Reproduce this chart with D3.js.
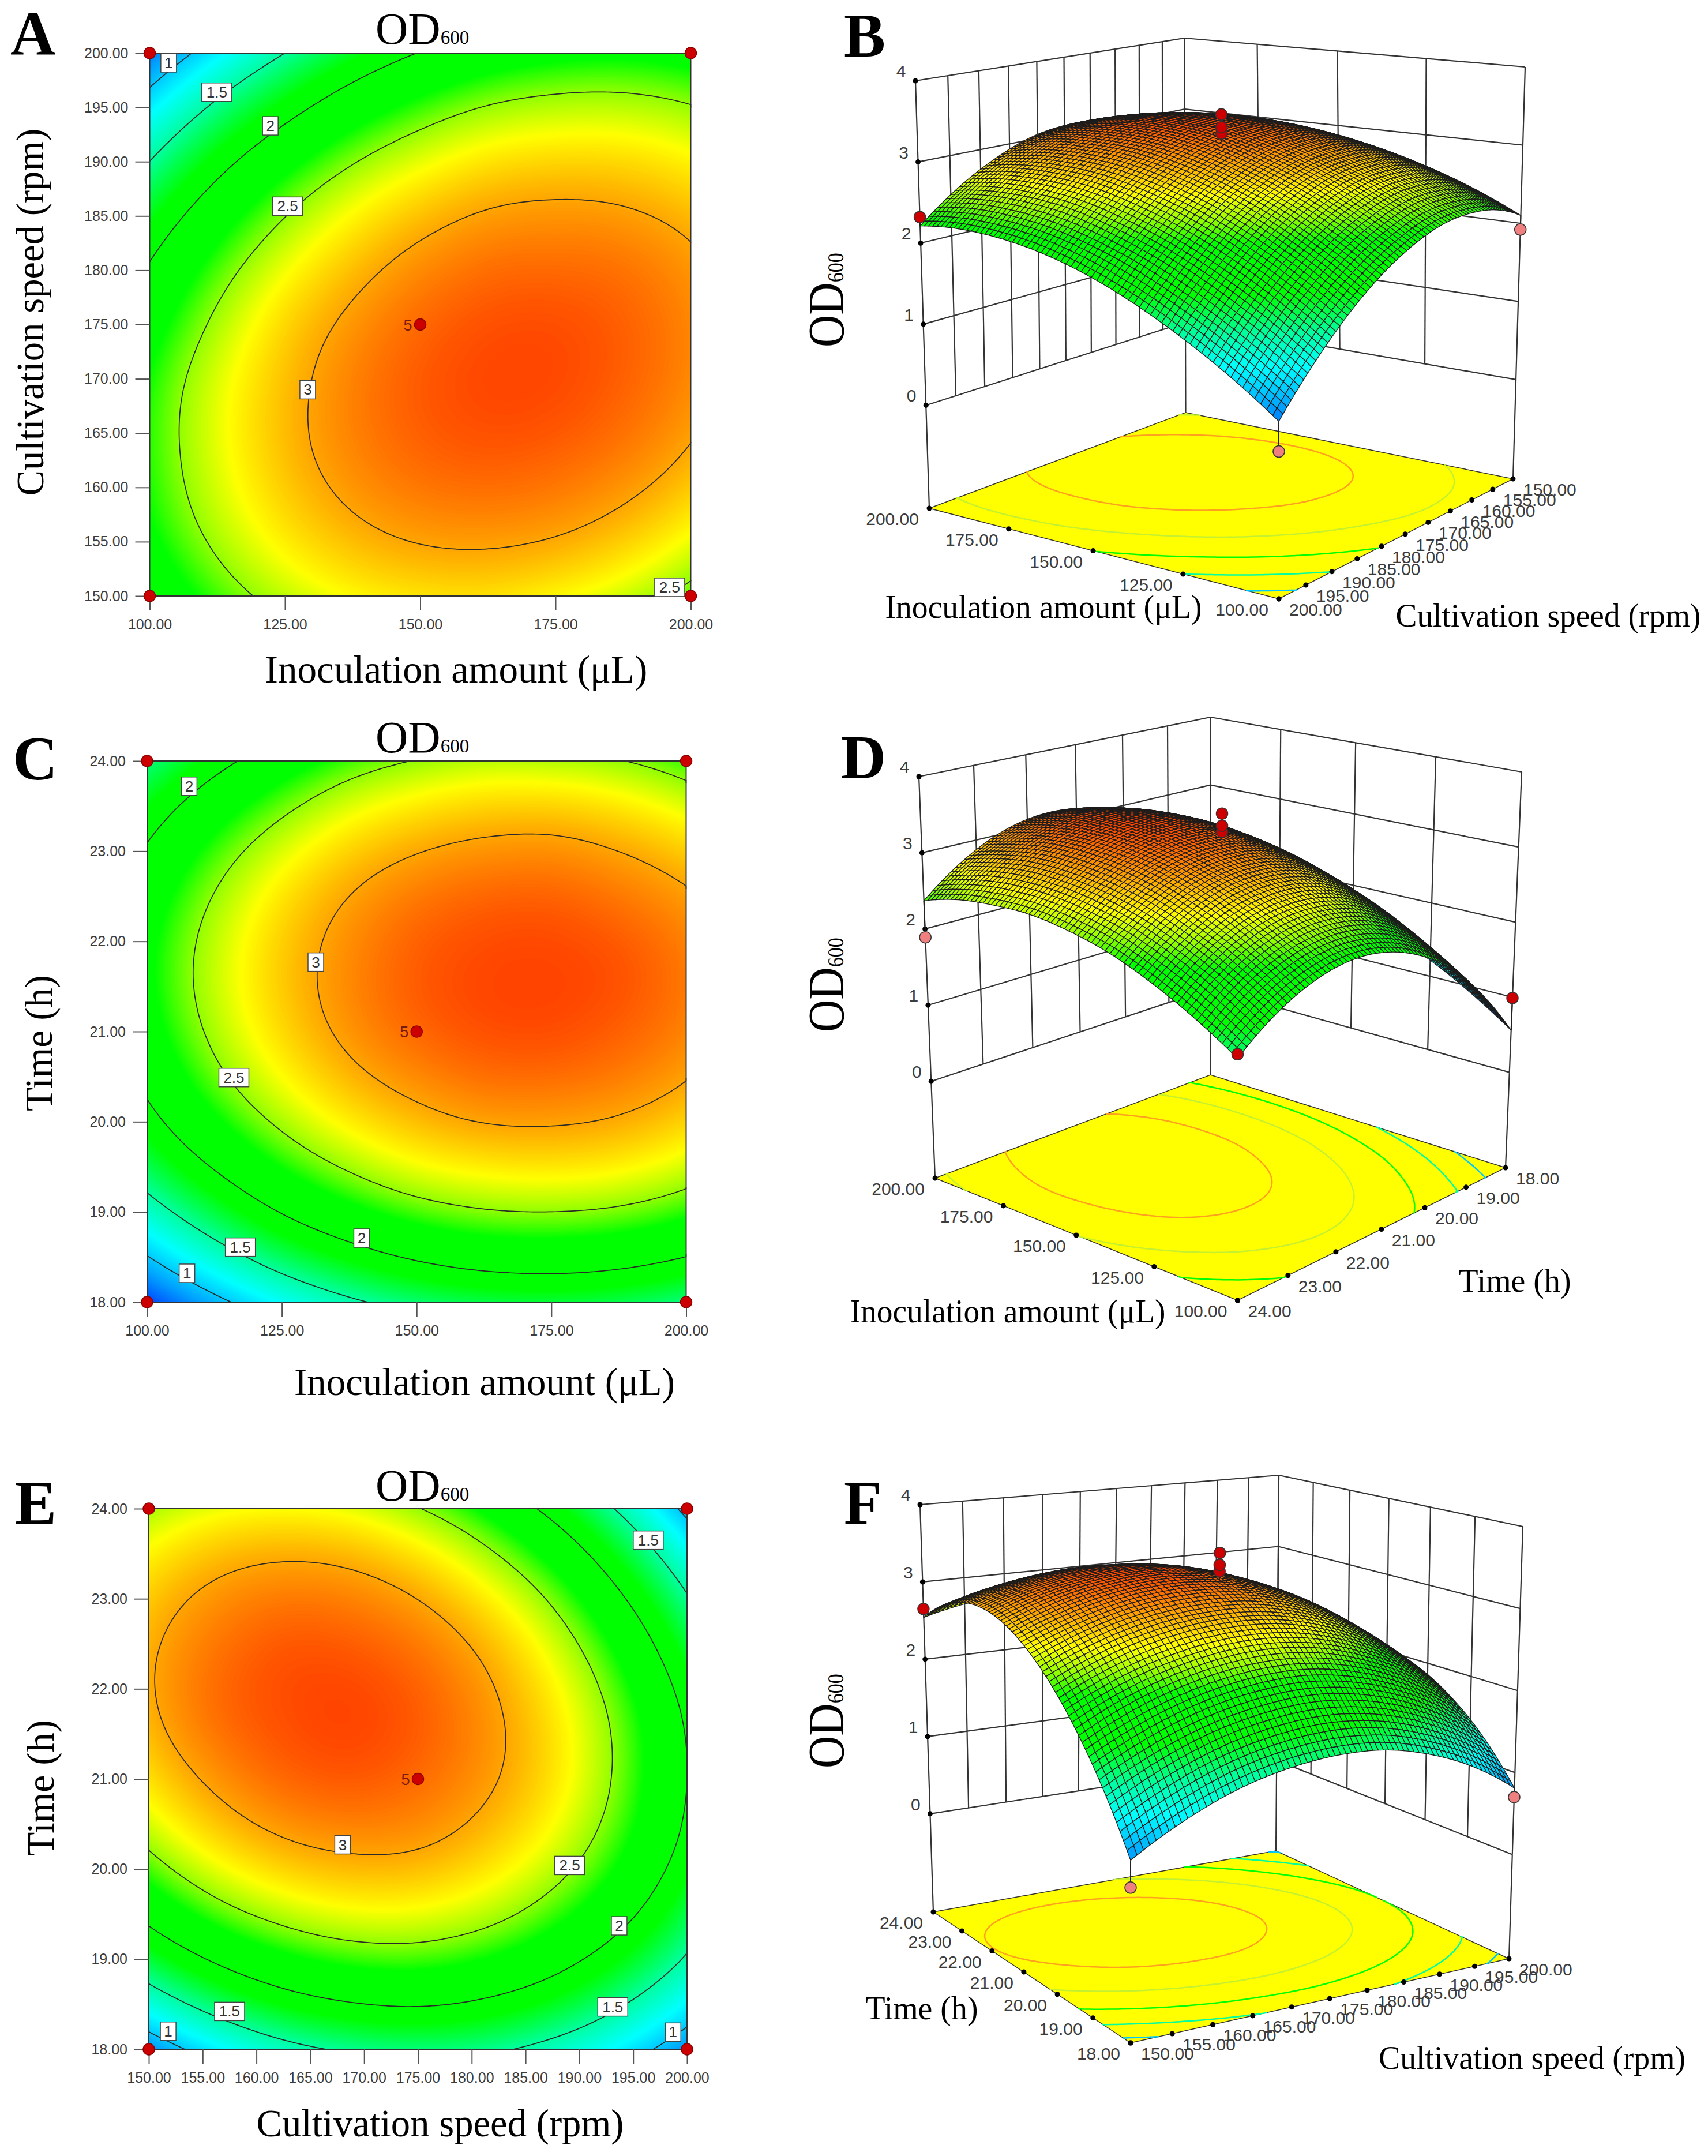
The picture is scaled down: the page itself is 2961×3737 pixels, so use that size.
<!DOCTYPE html>
<html>
<head>
<meta charset="utf-8">
<script src="https://cdn.jsdelivr.net/npm/d3@7"></script>
<style>
body { margin: 0; background: #fff; }
text { fill: #000; }
</style>
</head>
<body>
<div id="chart"></div>
<script>
// tick labels
var inocTicks = [100, 125, 150, 175, 200]
var speedTicks = [150, 155, 160, 165, 170, 175, 180, 185, 190, 195, 200]
var timeTicks = [18, 19, 20, 21, 22, 23, 24]
var odTicks = [0, 1, 2, 3, 4]
var levels = [1, 1.5, 2, 2.5, 3]

// OD600, rows go up the y axis, columns along the x axis
// inoculation amount 100..200 (columns) by cultivation speed 150..200 (rows)
var odInocSpeed = [
    [2.10, 2.38, 2.59, 2.73, 2.80, 2.81, 2.74, 2.62, 2.42],
    [2.28, 2.57, 2.80, 2.96, 3.05, 3.07, 3.03, 2.92, 2.74],
    [2.35, 2.66, 2.91, 3.09, 3.20, 3.24, 3.21, 3.12, 2.96],
    [2.33, 2.66, 2.92, 3.12, 3.25, 3.31, 3.30, 3.22, 3.08],
    [2.20, 2.55, 2.84, 3.05, 3.20, 3.28, 3.29, 3.23, 3.10],
    [1.98, 2.35, 2.65, 2.88, 3.05, 3.15, 3.17, 3.14, 3.03],
    [1.66, 2.05, 2.37, 2.62, 2.80, 2.92, 2.96, 2.94, 2.85],
    [1.24, 1.65, 1.98, 2.25, 2.45, 2.59, 2.65, 2.65, 2.58],
    [0.73, 1.15, 1.50, 1.79, 2.01, 2.16, 2.24, 2.26, 2.21]
]
// inoculation amount 100..200 (columns) by time 18..24 (rows)
var odInocTime = [
    [0.56, 0.92, 1.22, 1.45, 1.61, 1.70, 1.73, 1.69, 1.58],
    [1.18, 1.54, 1.84, 2.06, 2.22, 2.31, 2.33, 2.29, 2.18],
    [1.67, 2.02, 2.31, 2.53, 2.69, 2.77, 2.79, 2.75, 2.63],
    [2.00, 2.36, 2.64, 2.86, 3.01, 3.10, 3.11, 3.06, 2.94],
    [2.20, 2.55, 2.83, 3.05, 3.20, 3.28, 3.29, 3.23, 3.11],
    [2.26, 2.60, 2.88, 3.09, 3.24, 3.31, 3.32, 3.27, 3.14],
    [2.17, 2.51, 2.79, 3.00, 3.14, 3.21, 3.22, 3.15, 3.03],
    [1.94, 2.28, 2.55, 2.76, 2.89, 2.96, 2.97, 2.90, 2.77],
    [1.57, 1.90, 2.17, 2.38, 2.51, 2.58, 2.57, 2.51, 2.37]
]
// cultivation speed 150..200 (columns) by time 18..24 (rows)
var odSpeedTime = [
    [0.80, 1.15, 1.40, 1.54, 1.59, 1.55, 1.40, 1.16, 0.81],
    [1.52, 1.84, 2.06, 2.18, 2.21, 2.13, 1.96, 1.69, 1.33],
    [2.09, 2.39, 2.58, 2.68, 2.68, 2.58, 2.38, 2.09, 1.69],
    [2.52, 2.79, 2.96, 3.03, 3.01, 2.88, 2.66, 2.34, 1.92],
    [2.81, 3.05, 3.20, 3.25, 3.19, 3.04, 2.80, 2.45, 2.00],
    [2.96, 3.18, 3.29, 3.32, 3.24, 3.06, 2.79, 2.42, 1.95],
    [2.96, 3.15, 3.25, 3.24, 3.14, 2.94, 2.64, 2.24, 1.74],
    [2.82, 2.99, 3.06, 3.03, 2.90, 2.67, 2.35, 1.92, 1.40],
    [2.54, 2.68, 2.72, 2.67, 2.51, 2.26, 1.91, 1.46, 0.92]
]

// contour labels: level, x value, y value
var labelsA = [[1, 103.5, 199.1], [1.5, 112.4, 196.4], [2, 122.3, 193.3], [2.5, 125.5, 185.9], [3, 129.2, 169.0], [2.5, 196.1, 150.8]]
var labelsC = [[2, 107.8, 23.72], [3, 131.3, 21.77], [2.5, 116.1, 20.49], [2, 139.8, 18.71], [1.5, 117.3, 18.61], [1, 107.4, 18.32]]
var labelsE = [[1.5, 196.4, 23.65], [3, 168.0, 20.27], [2.5, 189.1, 20.04], [2, 193.7, 19.37], [1.5, 157.5, 18.42], [1.5, 193.1, 18.47], [1, 151.8, 18.2], [1, 198.7, 18.19]]

// design points of the contour plots
var designInocSpeed = [[100, 200], [200, 200], [100, 150], [200, 150], [150, 175]]
var designInocTime = [[100, 24], [200, 24], [100, 18], [200, 18], [150, 21]]
var designSpeedTime = [[150, 24], [200, 24], [150, 18], [200, 18], [175, 21]]

// measured points of the 3D plots: x value, y value, OD600
var runsB = [[200, 200, 2.32], [100, 150, 1.92], [100, 200, 0.39], [150, 175, 3.25], [150, 175, 3.33], [150, 175, 3.49]]
var runsD = [[200, 24, 1.89], [100, 18, 0.99], [100, 24, 1.62], [150, 21, 3.24], [150, 21, 3.32], [150, 21, 3.48]]
var runsF = [[150, 24, 2.65], [200, 18, 0.70], [150, 18, 0.49], [175, 21, 3.30], [175, 21, 3.38], [175, 21, 3.53]]

var width = 2961, height = 3737
var sans = "'Liberation Sans', Arial, sans-serif"
var serif = "'Liberation Serif', 'Times New Roman', serif"

var svg = d3.select("#chart").append("svg")
    .attr("width", width)
    .attr("height", height)
    .style("display", "block")
svg.append("rect").attr("width", width).attr("height", height).attr("fill", "#fff")

// Design-Expert style colour ramp
var color = d3.scaleLinear()
    .domain([0.5, 0.85, 1.2, 1.5, 1.85, 2.3, 2.5, 2.72, 3.0, 3.35])
    .range(["#0030ff", "#00a0ff", "#00ffff", "#00ffa0", "#00ff00", "#00ff00", "#90ff00", "#ffff00", "#ffa500", "#ff3c00"])
    .clamp(true)

// catmull-rom along one list, keeps the drawn field smooth between read values
function sample1(arr, t) {
    var n = arr.length
    var i = Math.min(Math.floor(t), n - 2)
    var f = t - i
    var p1 = arr[i], p2 = arr[i + 1]
    var p0 = i > 0 ? arr[i - 1] : 3 * p1 - 3 * p2 + arr[i + 2]
    var p3 = i < n - 2 ? arr[i + 2] : 3 * p2 - 3 * p1 + arr[i - 1]
    return 0.5 * (2 * p1 + (p2 - p0) * f + (2 * p0 - 5 * p1 + 4 * p2 - p3) * f * f + (-p0 + 3 * p1 - 3 * p2 + p3) * f * f * f)
}
function makeField(grid) {
    var m = grid.length - 1, n = grid[0].length - 1
    return function(u, v) {
        var col = grid.map(row => sample1(row, u * n))
        return sample1(col, v * m)
    }
}
function fieldValues(field, N) {
    var values = new Float64Array(N * N)
    for (var j = 0; j < N; j++) {
        for (var i = 0; i < N; i++) {
            values[j * N + i] = field(i / (N - 1), j / (N - 1))
        }
    }
    return values
}

// contour lines without the box edge that d3.contours closes them with
function contourLines(values, N, level) {
    var unit = d3.scaleLinear().domain([0.5, N - 0.5]).range([0, 1]).clamp(true)
    var out = p => p[0] <= 0 || p[0] >= N || p[1] <= 0 || p[1] >= N
    var lines = []
    var c = d3.contours().size([N, N]).thresholds([level])(values)[0]
    c.coordinates.forEach(poly => poly.forEach(ring => {
        var cur = []
        for (var k = 0; k < ring.length - 1; k++) {
            if (out(ring[k]) && out(ring[k + 1])) {
                if (cur.length) lines.push(cur)
                cur = []
            } else {
                if (!cur.length) cur.push(ring[k])
                cur.push(ring[k + 1])
            }
        }
        if (cur.length) lines.push(cur)
    }))
    return lines.map(l => l.map(p => [unit(p[0]), unit(p[1])]))
}

function addLetter(s, x, y) {
    svg.append("text").attr("x", x).attr("y", y)
        .style("font-family", serif).style("font-size", "108px").style("font-weight", "bold")
        .text(s)
}
function addTitle(s, x, y, size, len, rotate) {
    svg.append("text")
        .attr("transform", "translate(" + x + "," + y + ")" + (rotate ? " rotate(-90)" : ""))
        .attr("text-anchor", "middle")
        .attr("textLength", len)
        .attr("lengthAdjust", "spacingAndGlyphs")
        .style("font-family", serif).style("font-size", size + "px")
        .text(s)
}
function addOD(x, y, size, subSize, rotate) {
    var t = svg.append("text")
        .attr("transform", "translate(" + x + "," + y + ")" + (rotate ? " rotate(-90) scale(1,1.15)" : ""))
        .style("font-family", serif).style("font-size", size + "px")
    t.append("tspan").text("OD")
    t.append("tspan").style("font-size", subSize + "px").text("600")
}

// flat contour plot
function contourPlot(p) {
    var x = d3.scaleLinear().domain(d3.extent(p.xTicks)).range([p.left, p.right])
    var y = d3.scaleLinear().domain(d3.extent(p.yTicks)).range([p.bottom, p.top])
    var N = 170
    var values = fieldValues(makeField(p.grid), N)
    var unit = d3.scaleLinear().domain([0.5, N - 0.5]).range([0, 1]).clamp(true)
    var ux = u => p.left + u * (p.right - p.left)
    var uy = v => p.bottom + v * (p.top - p.bottom)
    var g = svg.append("g")

    g.append("rect").attr("x", p.left).attr("y", p.top)
        .attr("width", p.right - p.left).attr("height", p.bottom - p.top)
        .attr("fill", color(d3.min(values)))

    // stacked bands make the colour wash
    var thresholds = d3.range(0.5, 3.36, 0.01)
    var path = d3.geoPath(d3.geoTransform({
        point: function(px, py) { this.stream.point(ux(unit(px)), uy(unit(py))) }
    }))
    g.selectAll(".band")
        .data(d3.contours().size([N, N]).thresholds(thresholds)(values).filter(c => c.coordinates.length))
        .enter().append("path")
        .attr("class", "band")
        .attr("d", path)
        .attr("fill", d => color(d.value + 0.005))

    var line = d3.line().x(d => ux(d[0])).y(d => uy(d[1]))
    levels.forEach(level => {
        g.selectAll(null).data(contourLines(values, N, level)).enter().append("path")
            .attr("d", line)
            .attr("fill", "none")
            .attr("stroke", "#2a2a2a")
            .attr("stroke-width", 1.7)
    })

    g.append("rect").attr("x", p.left).attr("y", p.top)
        .attr("width", p.right - p.left).attr("height", p.bottom - p.top)
        .attr("fill", "none").attr("stroke", "#333").attr("stroke-width", 2)

    // axes
    var fmt = d3.format(".2f")
    var xAxis = g.append("g").attr("transform", "translate(0," + p.bottom + ")")
        .call(d3.axisBottom(x).tickValues(p.xTicks).tickFormat(fmt).tickSize(25).tickPadding(15))
    var yAxis = g.append("g").attr("transform", "translate(" + p.left + ",0)")
        .call(d3.axisLeft(y).tickValues(p.yTicks).tickFormat(fmt).tickSize(25).tickPadding(12))
    ;[xAxis, yAxis].forEach(a => {
        a.select(".domain").remove()
        a.selectAll("line").attr("stroke", "#555").attr("stroke-width", 2)
        a.selectAll("text").style("font-family", sans).style("font-size", "25px").style("fill", "#3c3c3c")
    })

    // contour labels
    var lab = g.selectAll(null).data(p.labels).enter().append("g")
        .attr("transform", d => "translate(" + x(d[1]) + "," + y(d[2]) + ")")
    lab.append("rect")
        .attr("x", d => d[0] % 1 ? -26 : -13.5).attr("y", -16)
        .attr("width", d => d[0] % 1 ? 52 : 27).attr("height", 32)
        .attr("fill", "#fff").attr("stroke", "#444").attr("stroke-width", 1.5)
    lab.append("text").attr("text-anchor", "middle").attr("y", 9)
        .style("font-family", sans).style("font-size", "26px").style("fill", "#333")
        .text(d => d[0])

    // design points
    g.selectAll(null).data(p.design).enter().append("circle")
        .attr("cx", d => x(d[0])).attr("cy", d => y(d[1]))
        .attr("r", 10).attr("fill", "#cc0000").attr("stroke", "#8a0000").attr("stroke-width", 1.5)
    var c = p.design[4]
    g.append("text").attr("x", x(c[0]) - 14).attr("y", y(c[1]) + 10).attr("text-anchor", "end")
        .style("font-family", sans).style("font-size", "27px").style("fill", "#7a1a10")
        .text("5")
}

// unit square to quad, corners are (0,0) (1,0) (1,1) (0,1)
function homography(q) {
    var dx1 = q[1][0] - q[2][0], dx2 = q[3][0] - q[2][0], sx = q[0][0] - q[1][0] + q[2][0] - q[3][0]
    var dy1 = q[1][1] - q[2][1], dy2 = q[3][1] - q[2][1], sy = q[0][1] - q[1][1] + q[2][1] - q[3][1]
    var den = dx1 * dy2 - dx2 * dy1
    var g = (sx * dy2 - dx2 * sy) / den, h = (dx1 * sy - sx * dy1) / den
    var a = q[1][0] - q[0][0] + g * q[1][0], b = q[3][0] - q[0][0] + h * q[3][0], c = q[0][0]
    var d = q[1][1] - q[0][1] + g * q[1][1], e = q[3][1] - q[0][1] + h * q[3][1], f = q[0][1]
    return (u, v) => {
        var w = g * u + h * v + 1
        return [(a * u + b * v + c) / w, (d * u + e * v + f) / w]
    }
}

// 3D response surface
function surfacePlot(p) {
    var floorAt = homography(p.floor), topAt = homography(p.ceiling)
    var zUnit = d3.scaleLinear().domain([-1.27, 4]).range([0, 1])
    var project = function(u, v, z) {
        var a = floorAt(u, v), b = topAt(u, v), w = zUnit(z)
        return [a[0] + (b[0] - a[0]) * w, a[1] + (b[1] - a[1]) * w]
    }
    var xUnit = d3.scaleLinear().domain(d3.extent(p.xTicks)).range([0, 1])
    var yUnit = d3.scaleLinear().domain(d3.extent(p.yTicks)).range([0, 1])
    var field = makeField(p.grid)
    var line = d3.line()
    var g = svg.append("g")

    // walls, the uv corners come from the panel layout
    var L = p.leftUV, B = p.backUV, R = p.rightUV, F = p.frontUV
    var lerp = (a, b, t) => [a[0] + (b[0] - a[0]) * t, a[1] + (b[1] - a[1]) * t]
    var wallLines = []
    ;[[L, B, p.wallDivs[0]], [B, R, p.wallDivs[1]]].forEach(w => {
        odTicks.forEach(z => wallLines.push([project(w[0][0], w[0][1], z), project(w[1][0], w[1][1], z)]))
        d3.range(w[2] + 1).forEach(i => {
            var c = lerp(w[0], w[1], i / w[2])
            wallLines.push([project(c[0], c[1], 0), project(c[0], c[1], 4)])
        })
    })
    ;[L, B, R].forEach(c => wallLines.push([project(c[0], c[1], -1.27), project(c[0], c[1], 0)]))
    g.selectAll(null).data(wallLines).enter().append("path")
        .attr("d", line)
        .attr("stroke", "#333").attr("stroke-width", 2.2).attr("fill", "none")

    // floor with its contour lines
    g.append("path")
        .attr("d", line([L, B, R, F].map(c => floorAt(c[0], c[1]))) + "Z")
        .attr("fill", "#ffff00").attr("stroke", "#333").attr("stroke-width", 1.5)
    var N = 120
    var values = fieldValues(field, N)
    levels.forEach(level => {
        g.selectAll(null).data(contourLines(values, N, level)).enter().append("path")
            .attr("d", l => line(l.map(d => floorAt(d[0], d[1]))))
            .attr("fill", "none")
            .attr("stroke", level == 2.5 ? "#c4f030" : level == 3 ? "#ffa020" : color(level))
            .attr("stroke-width", 2.5)
    })

    // floor axes
    var fmt = d3.format(".2f")
    var axisTicks = []
    p.leftTicks.forEach(t => axisTicks.push({ pos: floorAt(p.leftAt(t)[0], p.leftAt(t)[1]), label: t, side: -1 }))
    p.rightTicks.forEach(t => axisTicks.push({ pos: floorAt(p.rightAt(t)[0], p.rightAt(t)[1]), label: t, side: 1 }))
    g.selectAll(null).data(axisTicks).enter().append("circle")
        .attr("cx", d => d.pos[0]).attr("cy", d => d.pos[1]).attr("r", 4.5).attr("fill", "#000")
    g.selectAll(null).data(axisTicks).enter().append("text")
        .attr("x", d => d.pos[0] + d.side * 18).attr("y", d => d.pos[1] + 29)
        .attr("text-anchor", d => d.side < 0 ? "end" : "start")
        .style("font-family", sans).style("font-size", "30px").style("fill", "#3c3c3c")
        .text(d => fmt(d.label))

    // z axis on the left corner
    g.selectAll(null).data(odTicks).enter().append("circle")
        .attr("cx", d => project(L[0], L[1], d)[0]).attr("cy", d => project(L[0], L[1], d)[1])
        .attr("r", 4.5).attr("fill", "#000")
    g.selectAll(null).data(odTicks).enter().append("text")
        .attr("x", d => project(L[0], L[1], d)[0] - 25).attr("y", d => project(L[0], L[1], d)[1] - 6)
        .attr("text-anchor", "middle")
        .style("font-family", sans).style("font-size", "30px").style("fill", "#3c3c3c")
        .text(d => d)

    // mesh, painted from the back corner to the front corner
    var cells = 70
    var us = d3.range(cells), vs = d3.range(cells)
    if (B[0] == 1) us.reverse()
    if (B[1] == 1) vs.reverse()
    var mesh = []
    us.forEach(i => vs.forEach(j => {
        var corners = [[i, j], [i + 1, j], [i + 1, j + 1], [i, j + 1]].map(c => {
            var u = c[0] / cells, v = c[1] / cells
            return { z: field(u, v), xy: project(u, v, field(u, v)) }
        })
        mesh.push({ z: d3.mean(corners, c => c.z), pts: corners.map(c => c.xy) })
    }))
    g.selectAll(null).data(mesh).enter().append("path")
        .attr("d", d => line(d.pts) + "Z")
        .attr("fill", d => color(d.z))
        .attr("stroke", "#1c1c1c")
        .attr("stroke-width", 1.3)
        .attr("stroke-linejoin", "round")

    // measured points with their stems, pink when under the surface
    var runs = p.runs.map(r => {
        var u = xUnit(r[0]), v = yUnit(r[1]), s = field(u, v)
        return { a: project(u, v, r[2]), b: project(u, v, s), under: r[2] < s }
    })
    g.selectAll(null).data(runs).enter().append("path")
        .attr("d", d => line([d.a, d.b]))
        .attr("stroke", "#222").attr("stroke-width", 2)
    g.selectAll(null).data(runs).enter().append("circle")
        .attr("cx", d => d.a[0]).attr("cy", d => d.a[1]).attr("r", 10)
        .attr("fill", d => d.under ? "#f08080" : "#cc0000")
        .attr("stroke", "#333").attr("stroke-width", 1.5)
}

// left column
contourPlot({ grid: odInocSpeed, xTicks: inocTicks, yTicks: speedTicks, labels: labelsA, design: designInocSpeed,
    left: 259.5, right: 1197.5, top: 92, bottom: 1033 })
contourPlot({ grid: odInocTime, xTicks: inocTicks, yTicks: timeTicks, labels: labelsC, design: designInocTime,
    left: 255, right: 1189.5, top: 1319, bottom: 2257 })
contourPlot({ grid: odSpeedTime, xTicks: speedTicks, yTicks: timeTicks, labels: labelsE, design: designSpeedTime,
    left: 258, right: 1191, top: 2615, bottom: 3552 })

addLetter("A", 18, 95)
addLetter("C", 22, 1351)
addLetter("E", 26, 2641)
addOD(651, 76, 78, 33)
addOD(651, 1304, 78, 33)
addOD(651, 2601, 78, 33)
addTitle("Inoculation amount (μL)", 791, 1183, 67, 663)
addTitle("Cultivation speed (rpm)", 75, 541, 67, 637, true)
addTitle("Inoculation amount (μL)", 840, 2418, 67, 660)
addTitle("Time (h)", 90, 1808, 67, 236, true)
addTitle("Cultivation speed (rpm)", 763, 3703, 67, 637)
addTitle("Time (h)", 93, 3099, 67, 236, true)

// right column
var speedAxis = d3.scaleLinear().domain([150, 200]).range([0, 1])
var inocAxis = d3.scaleLinear().domain([100, 200]).range([0, 1])
var timeAxis = d3.scaleLinear().domain([18, 24]).range([0, 1])

surfacePlot({ grid: odInocSpeed, xTicks: inocTicks, yTicks: speedTicks, runs: runsB,
    floor: [[2623, 830], [2055.5, 715], [1611, 881], [2217, 1038]],
    ceiling: [[2644, 116], [2053.5, 66], [1587, 140], [2217, 227]],
    rightUV: [0, 0], backUV: [1, 0], leftUV: [1, 1], frontUV: [0, 1],
    wallDivs: [10, 4],
    leftTicks: inocTicks, leftAt: t => [inocAxis(t), 1],
    rightTicks: speedTicks, rightAt: t => [0, speedAxis(t)] })

surfacePlot({ grid: odInocTime, xTicks: inocTicks, yTicks: timeTicks, runs: runsD,
    floor: [[2610, 2024], [2098.5, 1863], [1621, 2042], [2145.5, 2254]],
    ceiling: [[2638, 1338], [2098.5, 1243], [1593, 1346], [2145.5, 1476]],
    rightUV: [0, 0], backUV: [1, 0], leftUV: [1, 1], frontUV: [0, 1],
    wallDivs: [6, 4],
    leftTicks: inocTicks, leftAt: t => [inocAxis(t), 1],
    rightTicks: timeTicks, rightAt: t => [0, timeAxis(t)] })

surfacePlot({ grid: odSpeedTime, xTicks: speedTicks, yTicks: timeTicks, runs: runsF,
    floor: [[1960, 3541], [2616, 3395], [2212, 3208], [1618, 3314]],
    ceiling: [[1960, 2735], [2640, 2646], [2217, 2557], [1595, 2608]],
    frontUV: [0, 0], rightUV: [1, 0], backUV: [1, 1], leftUV: [0, 1],
    wallDivs: [10, 6],
    leftTicks: timeTicks, leftAt: t => [0, timeAxis(t)],
    rightTicks: speedTicks, rightAt: t => [speedAxis(t), 0] })

addLetter("B", 1463, 98)
addLetter("D", 1458, 1349)
addLetter("F", 1463, 2641)
addOD(1462, 602, 78, 34, true)
addOD(1462, 1789, 78, 34, true)
addOD(1462, 3065, 78, 34, true)
addTitle("Inoculation amount (μL)", 1809, 1071, 56, 549)
addTitle("Cultivation speed (rpm)", 2684, 1086, 56, 529)
addTitle("Inoculation amount (μL)", 1747, 2292, 56, 547)
addTitle("Time (h)", 2626, 2239, 56, 195)
addTitle("Time (h)", 1598, 3500, 56, 195)
addTitle("Cultivation speed (rpm)", 2656, 3586, 56, 532)
</script>
</body>
</html>
